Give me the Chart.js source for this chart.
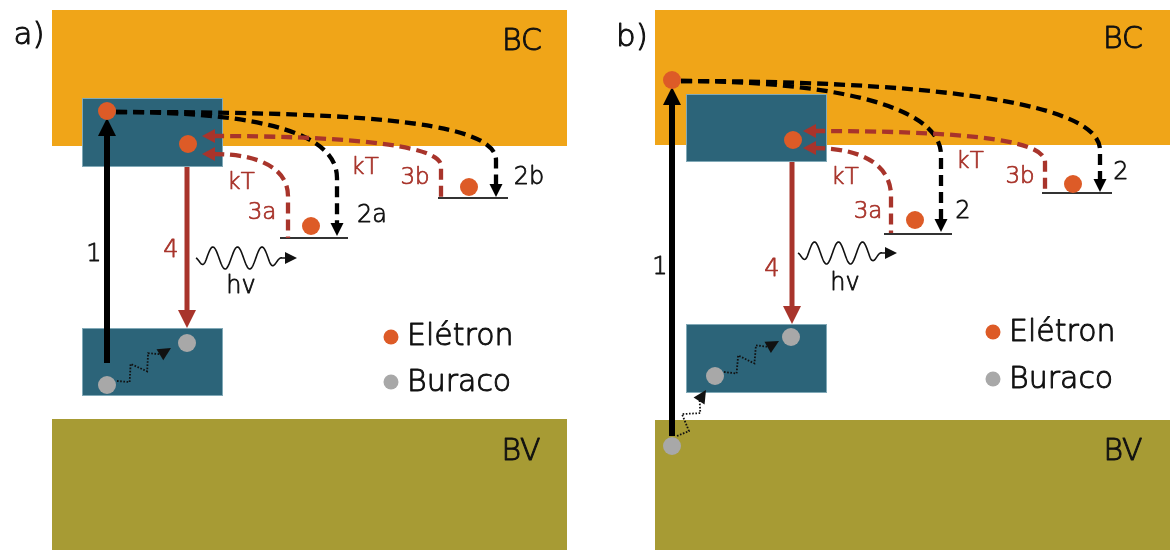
<!DOCTYPE html>
<html>
<head>
<meta charset="utf-8">
<script src="https://cdn.jsdelivr.net/npm/chart.js@4.4.1/dist/chart.umd.min.js"></script>
<style>
  html, body { margin: 0; padding: 0; background: #fff; }
  #wrap { width: 1170px; height: 550px; }
</style>
</head>
<body>
<div id="wrap"><canvas id="c" width="1170" height="550"></canvas></div>
<script>
// Energy-level scheme, panels a) and b).
// Diagram units: x 0–1170 left to right, y 0–550 from the top.

// Bands and trap states: [x0, x1, yTop, yBottom, kind]
const bandRects = [
  [52, 567, 10, 146, 'bc'], [52, 567, 419, 550, 'bv'],
  [82, 223, 98, 167, 'trap'], [82, 223, 328, 396, 'trap'],
  [655, 1170, 10, 145, 'bc'], [655, 1170, 420, 550, 'bv'],
  [686, 827, 94, 162, 'trap'], [686, 827, 324, 393, 'trap']
];

// Shallow levels: [x0, x1, y]
const levelLines = [[280, 348, 238], [438, 508, 198], [884, 952, 234], [1042, 1112, 193]];

// Carriers
const electronX = [107, 188, 311, 469, 672, 793, 915, 1073];
const electronY = [111, 144, 226, 187, 80, 140, 220, 184];
const holeX = [107, 187, 672, 715, 791];
const holeY = [385, 343, 446, 376, 337];
const legendDotX = [391, 391, 993, 993];
const legendDotY = [337, 382, 332, 379];

// Vertical transitions: [x, yFrom, yTip, kind]
const solidArrows = [
  [107, 363, 118, 'black'], [187, 167, 328, 'red'],
  [672, 436, 87, 'black'], [792, 162, 324, 'red']
];

// Dashed transitions; segments are [x, y] (line) or [c1x, c1y, c2x, c2y, x, y] (curve)
const dashedPaths = [
  { kind: 'black', head: 'end', seg: [[116, 112], [230, 112, 337, 125, 337, 178], [337, 224]] },
  { kind: 'black', head: 'end', seg: [[116, 112], [330, 112, 496, 118, 496, 160], [496, 185]] },
  { kind: 'red', head: 'start', seg: [[213, 136], [330, 136, 441, 143, 441, 166], [441, 197]] },
  { kind: 'red', head: 'start', seg: [[213, 154], [262, 154, 288, 170, 288, 196], [288, 238]] },
  { kind: 'black', head: 'end', seg: [[681, 81], [820, 81, 941, 103, 941, 155], [941, 220]] },
  { kind: 'black', head: 'end', seg: [[681, 81], [900, 81, 1100, 98, 1100, 150], [1100, 180]] },
  { kind: 'red', head: 'start', seg: [[814, 131], [950, 131, 1045, 138, 1045, 162], [1045, 193]] },
  { kind: 'red', head: 'start', seg: [[814, 148], [862, 148, 891, 165, 891, 196], [891, 233]] }
];

// Emitted photons: [xStart, y, xEnd]
const photons = [[196, 258, 282], [798, 253, 882]];

// Thermal hops of holes: [x0, y0, x1, y1]
const phonons = [[117, 381, 171, 348], [677, 436, 706, 390], [724, 372, 779, 341]];

// Labels: [text, x, y, size, kind, align]
const labels = [
  ['a)', 29, 36, 31, 'text', 'center'], ['BC', 522, 42, 30, 'text', 'center'], ['BV', 521, 452, 30, 'text', 'center'],
  ['1', 94, 255, 24, 'text', 'center'], ['4', 171, 251, 24, 'red', 'center'], ['hv', 241, 287, 24, 'text', 'center'],
  ['kT', 241, 183, 23, 'red', 'center'], ['3a', 262, 213, 23, 'red', 'center'], ['2a', 372, 216, 24, 'text', 'center'],
  ['kT', 365, 168, 23, 'red', 'center'], ['3b', 415, 178, 23, 'red', 'center'], ['2b', 529, 178, 24, 'text', 'center'],
  ['Elétron', 407, 337, 30, 'text', 'left'], ['Buraco', 407, 383, 30, 'text', 'left'],
  ['b)', 632, 38, 31, 'text', 'center'], ['BC', 1123, 40, 30, 'text', 'center'], ['BV', 1123, 452, 30, 'text', 'center'],
  ['1', 660, 268, 24, 'text', 'center'], ['4', 772, 270, 24, 'red', 'center'], ['hv', 845, 284, 24, 'text', 'center'],
  ['kT', 845, 178, 23, 'red', 'center'], ['3a', 868, 212, 23, 'red', 'center'], ['2', 963, 212, 24, 'text', 'center'],
  ['kT', 970, 162, 23, 'red', 'center'], ['3b', 1020, 177, 23, 'red', 'center'], ['2', 1121, 173, 24, 'text', 'center'],
  ['Elétron', 1009, 333, 30, 'text', 'left'], ['Buraco', 1009, 380, 30, 'text', 'left']
];

const COLORS = {
  bc: '#F0A518', bv: '#A79B34', trap: '#2C6479',
  electron: '#DD5B27', hole: '#A8A8A8',
  red: '#A8342B', black: '#000000', text: '#111111', level: '#333333'
};
const FONT = '"DejaVu Sans", sans-serif';

function head(ctx, tx, ty, dx, dy, len, half, color) {
  const n = Math.hypot(dx, dy); dx /= n; dy /= n;
  const bx = tx - dx * len, by = ty - dy * len;
  ctx.beginPath();
  ctx.moveTo(tx, ty);
  ctx.lineTo(bx - dy * half, by + dx * half);
  ctx.lineTo(bx + dy * half, by - dx * half);
  ctx.closePath();
  ctx.fillStyle = color;
  ctx.fill();
}

const diagram = {
  id: 'diagram',
  beforeDatasetsDraw(chart) {
    const { ctx, scales: { x, y } } = chart;
    const X = v => x.getPixelForValue(v), Y = v => y.getPixelForValue(v);
    ctx.save();

    bandRects.forEach(([x0, x1, y0, y1, k]) => {
      ctx.fillStyle = COLORS[k];
      ctx.fillRect(X(x0), Y(y0), X(x1) - X(x0), Y(y1) - Y(y0));
      if (k === 'trap') {
        ctx.strokeStyle = 'rgba(200,225,235,0.55)';
        ctx.lineWidth = 1;
        ctx.strokeRect(X(x0) + 0.5, Y(y0) + 0.5, X(x1) - X(x0) - 1, Y(y1) - Y(y0) - 1);
      }
    });

    ctx.strokeStyle = COLORS.level;
    ctx.lineWidth = 2;
    levelLines.forEach(([x0, x1, yy]) => {
      ctx.beginPath(); ctx.moveTo(X(x0), Y(yy)); ctx.lineTo(X(x1), Y(yy)); ctx.stroke();
    });

    // solid vertical transitions
    solidArrows.forEach(([xx, y0, y1, k]) => {
      const dir = Math.sign(y1 - y0), hl = 18;
      ctx.strokeStyle = COLORS[k];
      ctx.lineWidth = k === 'black' ? 6 : 5;
      ctx.beginPath();
      ctx.moveTo(X(xx), Y(y0));
      ctx.lineTo(X(xx), Y(y1) - dir * hl + dir);
      ctx.stroke();
      head(ctx, X(xx), Y(y1), 0, dir, hl, 9, COLORS[k]);
    });

    // dashed transitions
    dashedPaths.forEach(p => {
      const col = COLORS[p.kind];
      ctx.strokeStyle = col;
      ctx.lineWidth = 4.3;
      ctx.setLineDash([11, 6]);
      ctx.beginPath();
      p.seg.forEach((s, i) => {
        if (i === 0) ctx.moveTo(X(s[0]), Y(s[1]));
        else if (s.length === 2) ctx.lineTo(X(s[0]), Y(s[1]));
        else ctx.bezierCurveTo(X(s[0]), Y(s[1]), X(s[2]), Y(s[3]), X(s[4]), Y(s[5]));
      });
      ctx.stroke();
      ctx.setLineDash([]);
      if (p.head === 'end') {
        const a = p.seg[p.seg.length - 1], b = p.seg[p.seg.length - 2];
        const bx = b[b.length - 2], by = b[b.length - 1];
        const dx = X(a[0]) - X(bx), dy = Y(a[1]) - Y(by);
        const n = Math.hypot(dx, dy);
        head(ctx, X(a[0]) + dx / n * 12, Y(a[1]) + dy / n * 12, dx, dy, 13, 6.5, col);
      } else {
        const a = p.seg[0], c = p.seg[1];
        const dx = X(a[0]) - X(c[0]), dy = Y(a[1]) - Y(c[1]);
        const n = Math.hypot(dx, dy) || 1;
        head(ctx, X(a[0]) + dx / n * 11, Y(a[1]) + dy / n * 11, dx || -1, dy, 13, 7, col);
      }
    });

    // photons
    ctx.strokeStyle = '#111';
    ctx.lineWidth = 1.6;
    photons.forEach(([x0, yy, x1]) => {
      const px0 = X(x0), px1 = X(x1), py = Y(yy);
      const span = px1 - px0, period = span / 3.5, amp = 11;
      ctx.beginPath();
      for (let t = 0; t <= span; t += 0.5) {
        const env = Math.min(1, t / (period * 0.4), (span - t) / (period * 0.5));
        const yy2 = py + amp * Math.max(0, env) * Math.sin(2 * Math.PI * t / period + 0.4);
        if (t === 0) ctx.moveTo(px0 + t, yy2); else ctx.lineTo(px0 + t, yy2);
      }
      ctx.lineTo(px1 + 3, py);
      ctx.stroke();
      head(ctx, px1 + 15, py, 1, 0, 12, 6, '#111');
    });

    // phonon-assisted hole hops
    phonons.forEach(([x0, y0, x1, y1]) => {
      const ax = X(x0), ay = Y(y0), bx = X(x1), by = Y(y1);
      const dx = bx - ax, dy = by - ay, L = Math.hypot(dx, dy);
      const ux = dx / L, uy = dy / L, nx = -uy, ny = ux;
      const bodyL = L - 12, teeth = Math.max(3, Math.round(bodyL / 10));
      ctx.strokeStyle = '#111';
      ctx.lineWidth = 1.8;
      ctx.setLineDash([1.6, 1.6]);
      ctx.beginPath();
      ctx.moveTo(ax, ay);
      for (let i = 1; i <= teeth; i++) {
        const s = bodyL * i / teeth, o = (i === teeth) ? 0 : (i % 2 ? 7.5 : -7.5);
        ctx.lineTo(ax + ux * s + nx * o, ay + uy * s + ny * o);
      }
      ctx.stroke();
      ctx.setLineDash([]);
      head(ctx, bx, by, dx, dy, 13, 6.5, '#111');
    });

    ctx.restore();
  },
  afterDatasetsDraw(chart) {
    const { ctx, scales: { x, y } } = chart;
    ctx.save();
    ctx.textBaseline = 'middle';
    ctx.lineJoin = 'round';
    labels.forEach(([t, xx, yy, size, k, align]) => {
      const col = k === 'red' ? COLORS.red : COLORS.text;
      const px = x.getPixelForValue(xx), py = y.getPixelForValue(yy);
      ctx.font = `200 ${size}px ${FONT}`;
      ctx.fillStyle = col;
      ctx.strokeStyle = col;
      ctx.lineWidth = size * 0.032;
      ctx.textAlign = align;
      ctx.fillText(t, px, py);
      ctx.strokeText(t, px, py);
    });
    ctx.restore();
  }
};

const toPoints = (xs, ys) => xs.map((v, i) => ({ x: v, y: ys[i] }));

new Chart(document.getElementById('c'), {
  type: 'scatter',
  data: {
    datasets: [
      { label: 'Elétron', data: toPoints(electronX, electronY), pointRadius: 9,
        backgroundColor: COLORS.electron, borderWidth: 0 },
      { label: 'Buraco', data: toPoints(holeX, holeY), pointRadius: 9,
        backgroundColor: COLORS.hole, borderWidth: 0 },
      { label: 'legend', data: toPoints(legendDotX, legendDotY), pointRadius: 7.5,
        backgroundColor: [COLORS.electron, COLORS.hole, COLORS.electron, COLORS.hole], borderWidth: 0 }
    ]
  },
  options: {
    responsive: false,
    devicePixelRatio: 1,
    animation: false,
    layout: { padding: 0, autoPadding: false },
    plugins: { legend: { display: false }, tooltip: { enabled: false } },
    scales: {
      x: { type: 'linear', min: 0, max: 1170, display: false },
      y: { type: 'linear', min: 0, max: 550, reverse: true, display: false }
    }
  },
  plugins: [diagram]
});
</script>
</body>
</html>
